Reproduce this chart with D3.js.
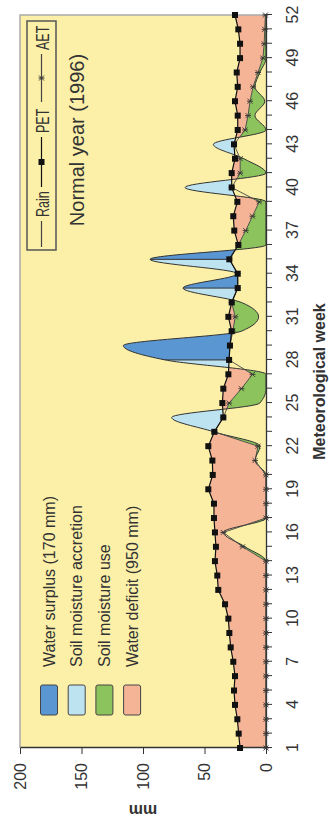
<!DOCTYPE html>
<html lang="en">
<head>
<meta charset="utf-8" />
<title>Water balance - normal year (1996)</title>
<script src="https://d3js.org/d3.v7.min.js"></script>
<style>
    body {
        margin: 0;
        background: #fff;
    }

    text {
        font-family: "Liberation Sans", Arial, sans-serif;
        fill: #333;
    }
</style>
</head>
<body>
<div id="chart"></div>
<script>
    // weekly water balance (mm), weeks 1..52
    var weeks = d3.range(1, 53);
    var rain = [0, 0, 0, 0, 0, 0, 0, 0, 0, 0, 0, 0, 0,
        0, 17, 34.7, 0, 0, 0, 0, 8.9, 4.9, 42.5, 76.7, 5, 0, 0, 82, 116, 20, 6, 20, 67.5, 23.5, 94.3,
        0, 0, 0, 0, 65.9, 0, 18, 42.8, 0, 9, 1, 9, 5, 0, 0, 0, 0];
    var pet = [21.1, 22.2, 23.3, 25.2, 26, 25.2, 26.6, 28.7, 29.8, 30.6, 33.3, 38.8, 39.6,
        41.5, 40.7, 41.5, 42.3, 42.3, 46.9, 43.3, 43.6, 46.9, 42, 34.7, 35.5, 34.7, 30.6, 30, 29.3,
        27.9, 30.6, 27.9, 23, 23, 29.8, 22.5, 25.8, 26.6, 23.3, 27.9, 27.9, 25.2, 26, 23, 23, 25.2,
        23, 23.8, 21.1, 21.1, 22.5, 25.2];
    var aet = [0, 0, 0, 0, 0, 0, 0, 0, 0, 0, 0, 0, 0,
        0, 19, 34.7, 0, 0, 0, 0, 8.9, 6.5, 42, 34.7, 30, 20, 11, 30, 29.3, 27, 25, 27.9, 23, 23, 29.8,
        22.5, 16.5, 11, 5.5, 27.9, 21, 21, 26, 17, 14.6, 13, 10.5, 6.5, 2.5, 1.5, 1, 0.5];
    // stretches of weeks where the excess over PET is surplus (the rest refills the soil)
    var surplusSpans = [[28, 30], [33, 34], [35, 36]];

    var weekLabels = [1, 4, 7, 10, 13, 16, 19, 22, 25, 28, 31, 34, 37, 40, 43, 46, 49, 52];
    var mmTicks = [0, 50, 100, 150, 200];
    var areaNames = ["Water surplus (170 mm)", "Soil moisture accretion", "Soil moisture use", "Water deficit (950 mm)"];
    var areaColors = ["#5996d2", "#bee3f0", "#8cc35c", "#f5b496"];
    var lineNames = ["Rain", "PET", "AET"];

    // the chart is laid out landscape, then turned a quarter left
    var W = 824, H = 329;
    var svg = d3.select("#chart").append("svg")
        .attr("width", H)
        .attr("height", W);
    var defs = svg.append("defs");
    var g = svg.append("g").attr("transform", "translate(0," + W + ") rotate(-90)");

    var x = d3.scaleLinear().domain([1, 52]).range([76, 809]);
    var y = d3.scaleLinear().domain([0, 200]).range([266, 20]);
    var top0 = y(200) - 4, bot0 = y(0) + 4;
    var rainCurve = d3.curveMonotoneX;

    g.append("rect")
        .attr("x", x(1)).attr("y", y(200))
        .attr("width", x(52) - x(1)).attr("height", y(0) - y(200))
        .attr("fill", "#fcf0a8");

    //clip regions above / below each series
    function makeClip(id, series, above, curve) {
        var a = d3.area()
            .x((d, i) => x(weeks[i]))
            .y0(d => y(d))
            .y1(above ? top0 : bot0)
            .curve(curve || d3.curveLinear);
        defs.append("clipPath").attr("id", id)
            .append("path").attr("d", a(series));
    }
    makeClip("aboveRain", rain, true, rainCurve);
    makeClip("belowRain", rain, false, rainCurve);
    makeClip("abovePet", pet, true);
    makeClip("belowPet", pet, false);
    makeClip("aboveAet", aet, true);
    makeClip("belowAet", aet, false);

    function layer(clips) {
        var el = g;
        clips.forEach(c => { el = el.append("g").attr("clip-path", "url(#" + c + ")"); });
        return el;
    }
    function fullRect(el, color) {
        el.append("rect")
            .attr("x", x(1)).attr("y", top0)
            .attr("width", x(52) - x(1)).attr("height", bot0 - top0)
            .attr("fill", color);
    }

    // water deficit: under PET, over AET and rain
    fullRect(layer(["belowPet", "aboveAet", "aboveRain"]), areaColors[3]);
    // soil moisture use: under AET, over rain
    fullRect(layer(["belowAet", "aboveRain"]), areaColors[2]);
    // excess rain over PET: accretion first, surplus once the soil is full
    var excess = layer(["abovePet", "belowRain"]);
    fullRect(excess, areaColors[1]);
    excess.selectAll(".surplus")
        .data(surplusSpans)
        .join("rect")
        .attr("class", "surplus")
        .attr("x", d => x(d[0]))
        .attr("width", d => x(d[1]) - x(d[0]))
        .attr("y", top0)
        .attr("height", bot0 - top0)
        .attr("fill", areaColors[0])
        .attr("stroke", "#333")
        .attr("stroke-width", 1);

    // plot frame
    g.append("path")
        .attr("d", "M" + x(1) + "," + y(200) + "H" + x(52) + "V" + y(0))
        .attr("fill", "none")
        .attr("stroke", "#aaa")
        .attr("stroke-width", 1.5);

    // axes
    var xAxis = g.append("g")
        .attr("transform", "translate(0," + y(0) + ")")
        .call(d3.axisBottom(x)
            .tickValues(weeks)
            .tickSize(6)
            .tickSizeOuter(0)
            .tickPadding(15)
            .tickFormat(d => weekLabels.includes(d) ? d : ""));
    var yAxis = g.append("g")
        .attr("transform", "translate(" + x(1) + ",0)")
        .call(d3.axisLeft(y)
            .tickValues(mmTicks)
            .tickSize(6)
            .tickSizeOuter(0)
            .tickPadding(9));
    [xAxis, yAxis].forEach(a => {
        a.select(".domain").attr("stroke", "#333").attr("stroke-width", 1.3);
        a.selectAll(".tick line").attr("stroke", "#333");
        a.selectAll("text").style("font-size", "16px").attr("fill", "#333");
    });

    // lines
    var line = (s, c) => d3.line().x((d, i) => x(weeks[i])).y(d => y(d)).curve(c || d3.curveLinear)(s);
    g.append("path").attr("d", line(rain, rainCurve))
        .attr("fill", "none").attr("stroke", "#333").attr("stroke-width", 1);
    g.append("path").attr("d", line(aet))
        .attr("fill", "none").attr("stroke", "#444").attr("stroke-width", 0.9);
    var star = "M-2.5,-2.5L2.5,2.5M-2.5,2.5L2.5,-2.5M0,-3V3";
    g.selectAll(".aet")
        .data(aet)
        .join("path")
        .attr("class", "aet")
        .attr("transform", (d, i) => "translate(" + x(weeks[i]) + "," + y(d) + ")")
        .attr("d", star)
        .attr("stroke", "#333")
        .attr("stroke-width", 0.9);
    g.append("path").attr("d", line(pet))
        .attr("fill", "none").attr("stroke", "#111").attr("stroke-width", 1.2);
    g.selectAll(".pet")
        .data(pet)
        .join("rect")
        .attr("class", "pet")
        .attr("x", (d, i) => x(weeks[i]) - 3)
        .attr("y", d => y(d) - 3)
        .attr("width", 6)
        .attr("height", 6)
        .attr("fill", "#111");

    // titles
    g.append("text")
        .attr("transform", "translate(19,143) rotate(-90)")
        .attr("text-anchor", "middle")
        .style("font-size", "16px")
        .style("font-weight", "bold")
        .text("mm");
    g.append("text")
        .attr("x", (x(1) + x(52)) / 2)
        .attr("y", 325)
        .attr("text-anchor", "middle")
        .style("font-size", "16px")
        .style("font-weight", "bold")
        .text("Meteorological week");
    g.append("text")
        .attr("x", 684)
        .attr("y", 84)
        .attr("text-anchor", "middle")
        .style("font-size", "20px")
        .attr("fill", "#222")
        .text("Normal year (1996)");

    // area legend
    var al = g.selectAll(".alegend")
        .data(areaNames)
        .join("g")
        .attr("class", "alegend")
        .attr("transform", (d, i) => "translate(109," + (49 + i * 27.7) + ")");
    al.append("rect")
        .attr("x", 0).attr("y", -8.5)
        .attr("width", 30).attr("height", 17)
        .attr("rx", 2)
        .attr("fill", (d, i) => areaColors[i])
        .attr("stroke", "#444");
    al.append("text")
        .attr("x", 48)
        .attr("y", 5.5)
        .style("font-size", "16px")
        .text(d => d);

    // line legend
    g.append("rect")
        .attr("x", 574).attr("y", 27)
        .attr("width", 229).attr("height", 29)
        .attr("fill", "none")
        .attr("stroke", "#555")
        .attr("stroke-width", 1.5);
    var lx = [577, 637, 722];
    var lw = [26, 50, 48];
    var ll = g.selectAll(".llegend")
        .data(lineNames)
        .join("g")
        .attr("class", "llegend")
        .attr("transform", (d, i) => "translate(" + lx[i] + ",41.5)");
    ll.append("line")
        .attr("x1", 0).attr("x2", (d, i) => lw[i])
        .attr("stroke", (d, i) => i == 1 ? "#111" : "#444")
        .attr("stroke-width", 1.2);
    ll.filter((d, i) => i == 1).append("rect")
        .attr("x", lw[1] / 2 - 3).attr("y", -3)
        .attr("width", 6).attr("height", 6)
        .attr("fill", "#111");
    ll.filter((d, i) => i == 2).append("path")
        .attr("transform", "translate(" + lw[2] / 2 + ",0)")
        .attr("d", star)
        .attr("stroke", "#333");
    ll.append("text")
        .attr("transform", (d, i) => "translate(" + (lw[i] + 4) + ",7) scale(0.66,1)")
        .style("font-size", "19px")
        .text(d => d);
</script>
</body>
</html>
